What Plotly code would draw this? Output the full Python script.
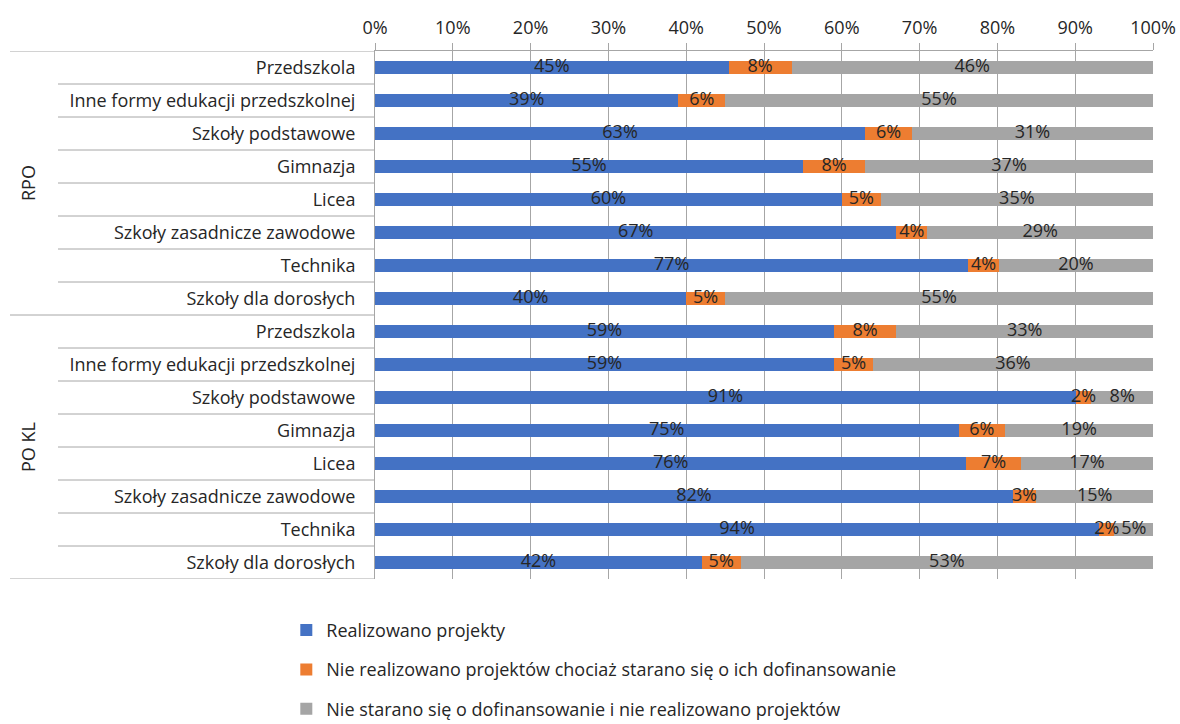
import plotly.graph_objects as go

# Programme groups and school types (top to bottom)
groups = ["RPO", "PO KL"]
school_types = [
    "Przedszkola",
    "Inne formy edukacji przedszkolnej",
    "Szkoły podstawowe",
    "Gimnazja",
    "Licea",
    "Szkoły zasadnicze zawodowe",
    "Technika",
    "Szkoły dla dorosłych",
]

# Shares (%) per group, in the order of school_types
realized_rpo = [45, 39, 63, 55, 60, 67, 77, 40]
tried_rpo = [8, 6, 6, 8, 5, 4, 4, 5]
not_tried_rpo = [46, 55, 31, 37, 35, 29, 20, 55]

realized_pokl = [59, 59, 91, 75, 76, 82, 94, 42]
tried_pokl = [8, 5, 2, 6, 7, 3, 2, 5]
not_tried_pokl = [33, 36, 8, 19, 17, 15, 5, 53]

series_names = [
    "Realizowano projekty",
    "Nie realizowano projektów chociaż starano się o ich dofinansowanie",
    "Nie starano się o dofinansowanie i nie realizowano projektów",
]
colors = ["#4472C4", "#ED7D31", "#A5A5A5"]

x_ticks = list(range(0, 101, 10))

FONT = "Open Sans"
FS = 18
TEXT_COLOR = "#262626"
LINE_COLOR = "#A6A6A6"

# Unique category keys for each row
keys = [f"{g}|{s}" for g in groups for s in school_types]
labels = [s for g in groups for s in school_types]

series_values = [
    realized_rpo + realized_pokl,
    tried_rpo + tried_pokl,
    not_tried_rpo + not_tried_pokl,
]

fig = go.Figure()
for i, (name, vals, col) in enumerate(zip(series_names, series_values, colors)):
    fig.add_trace(
        go.Bar(
            y=keys,
            x=vals,
            orientation="h",
            name=name,
            marker=dict(color=col, line=dict(width=0)),
            legendgroup=f"g{i}",
            hoverinfo="skip",
        )
    )

# Value labels drawn on top of all bars, centred in each normalised segment
totals = [sum(col) for col in zip(*series_values)]
running = [0.0] * len(keys)
for vals in series_values:
    centres = []
    for k, v in enumerate(vals):
        centres.append((running[k] + v / 2) / totals[k] * 100)
        running[k] += v
    fig.add_trace(
        go.Scatter(
            x=centres,
            y=keys,
            mode="text",
            text=[f"{v}%" for v in vals],
            textposition="middle center",
            textfont=dict(family=FONT, size=FS, color=TEXT_COLOR),
            showlegend=False,
            hoverinfo="skip",
            cliponaxis=False,
        )
    )

fig.update_layout(
    width=1180,
    height=724,
    margin=dict(l=375, r=27, t=51, b=145),
    paper_bgcolor="white",
    plot_bgcolor="white",
    barmode="stack",
    barnorm="percent",
    bargap=0.6,
    font=dict(family=FONT, size=FS, color=TEXT_COLOR),
    showlegend=True,
    legend=dict(
        x=-0.114,
        xanchor="left",
        yref="container",
        y=0.155,
        yanchor="top",
        traceorder="grouped",
        tracegroupgap=13,
        font=dict(family=FONT, size=FS, color=TEXT_COLOR),
        bgcolor="rgba(0,0,0,0)",
    ),
)

fig.update_xaxes(
    side="top",
    range=[0, 100],
    tickvals=x_ticks,
    ticktext=[f"{t}%" for t in x_ticks],
    showgrid=True,
    gridcolor=LINE_COLOR,
    gridwidth=1,
    showline=True,
    linecolor=LINE_COLOR,
    ticks="outside",
    ticklen=7,
    tickcolor=LINE_COLOR,
    ticklabelstandoff=2,
    zeroline=False,
    automargin=False,
    tickfont=dict(family=FONT, size=FS, color=TEXT_COLOR),
    fixedrange=True,
)

n = len(keys)
fig.update_yaxes(
    type="category",
    categoryorder="array",
    categoryarray=keys,
    range=[n - 0.5, -0.5],
    autorange=False,
    tickvals=keys,
    ticktext=labels,
    showline=True,
    linecolor=LINE_COLOR,
    ticks="",
    ticklabelstandoff=15,
    showgrid=False,
    automargin=False,
    tickfont=dict(family=FONT, size=FS, color=TEXT_COLOR),
    fixedrange=True,
)

# Row separators on the category axis: long lines around groups, shorter between rows
plot_w = 1180 - 375 - 27
x_inner = (58 - 375) / plot_w
x_outer = (10 - 375) / plot_w
per_group = len(school_types)
for b in range(n + 1):
    x0 = x_outer if b % per_group == 0 else x_inner
    fig.add_shape(
        type="line",
        xref="paper",
        yref="y",
        x0=x0,
        x1=0,
        y0=b - 0.5,
        y1=b - 0.5,
        line=dict(color=LINE_COLOR, width=1),
        layer="below",
    )

# Group labels, rotated along the axis
for gi, g in enumerate(groups):
    mid = gi * per_group + (per_group - 1) / 2
    fig.add_annotation(
        text=g,
        xref="paper",
        yref="y",
        x=(28 - 375) / plot_w,
        y=mid,
        textangle=-90,
        showarrow=False,
        font=dict(family=FONT, size=FS, color=TEXT_COLOR),
        xanchor="center",
        yanchor="middle",
    )

fig.write_html("out.html")
